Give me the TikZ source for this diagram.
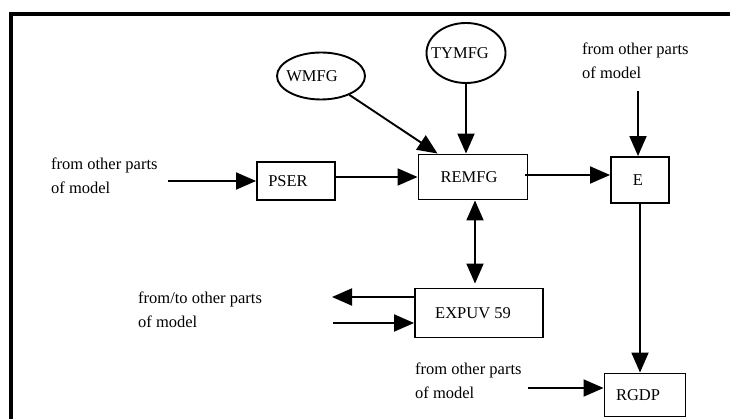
\documentclass[tikz,border=0pt]{standalone}
\usepackage{fontspec}
\setmainfont{Liberation Serif}
\usetikzlibrary{arrows.meta,shapes.geometric,calc}
\begin{document}
\begin{tikzpicture}[x=1pt,y=-1pt, font=\fontsize{16.5}{24}\selectfont,
  box/.style={draw, line width=1.9pt, inner sep=0pt},
  oval/.style={ellipse, draw, line width=1.9pt, inner sep=0pt},
  tip/.tip={Triangle[length=20pt,width=17pt]},
  arr/.style={line width=1.9pt, -tip},
  dblarr/.style={line width=1.9pt, tip-tip},
  lbl/.style={anchor=base west, inner sep=0pt}]
\useasboundingbox (0,0) rectangle (730,419);
% frame
\draw[line width=3.5pt, line join=miter] (11,425) -- (11,14) -- (735,14);
% boxes
\node[box, minimum width=78pt, minimum height=38pt] (pser) at (296,181) {PSER\hspace*{16pt}};
\node[box, minimum width=109pt, minimum height=45pt] (remfg) at (473,177) {REMFG\hspace*{8pt}};
\node[box, minimum width=58pt, minimum height=46pt] (e) at (640,180) {E\hspace*{4pt}};
\node[box, minimum width=128pt, minimum height=49pt] (expuv) at (479,313) {EXPUV 59\hspace*{12pt}};
\node[box, minimum width=81pt, minimum height=43pt] (rgdp) at (645,395) {RGDP\hspace*{14pt}};
\node[oval, minimum width=88pt, minimum height=47pt] (wmfg) at (321,76) {\makebox[0pt]{WMFG\hspace*{18pt}}};
\node[oval, minimum width=79pt, minimum height=60pt] (tymfg) at (466,53) {\makebox[0pt]{TYMFG\hspace*{12pt}}};
% labels
\node[lbl] (t1) at (51,170) {\begin{tabular}[t]{@{}l@{}}from other parts\\of model\end{tabular}};
\node[lbl] (t2) at (582,55) {\begin{tabular}[t]{@{}l@{}}from other parts\\of model\end{tabular}};
\node[lbl] (t3) at (138,304) {\begin{tabular}[t]{@{}l@{}}from/to other parts\\of model\end{tabular}};
\node[lbl] (t4) at (415,374) {\begin{tabular}[t]{@{}l@{}}from other parts\\of model\end{tabular}};
% connectors
\coordinate (inL) at (168,181);
\draw[arr] (inL) -- (pser.west);
\draw[arr] (pser.east |- remfg.west) -- (remfg.west);
\draw[arr] (wmfg) -- ([xshift=20pt]remfg.north west);
\draw[arr] (tymfg.south) -- (tymfg.south |- remfg.north);
\draw[arr] ([xshift=-3pt,yshift=2pt]remfg.east) -- ([yshift=2pt]e.west |- remfg.east);
\coordinate (inE) at (638,91);
\draw[arr] (inE) -- (inE |- e.north);
\draw[arr] (e.south) -- (e.south |- rgdp.north);
\draw[dblarr] ([xshift=2pt]remfg.south) -- ([xshift=2pt,yshift=4pt]remfg.south |- expuv.north);
\coordinate (outX) at (332,297);
\draw[arr] (outX -| expuv.west) -- (outX);
\coordinate (inX) at (333,323);
\draw[arr] (inX) -- (inX -| expuv.west);
\coordinate (inR) at (528,388);
\draw[arr] (inR) -- (inR -| rgdp.west);
\end{tikzpicture}
\end{document}
